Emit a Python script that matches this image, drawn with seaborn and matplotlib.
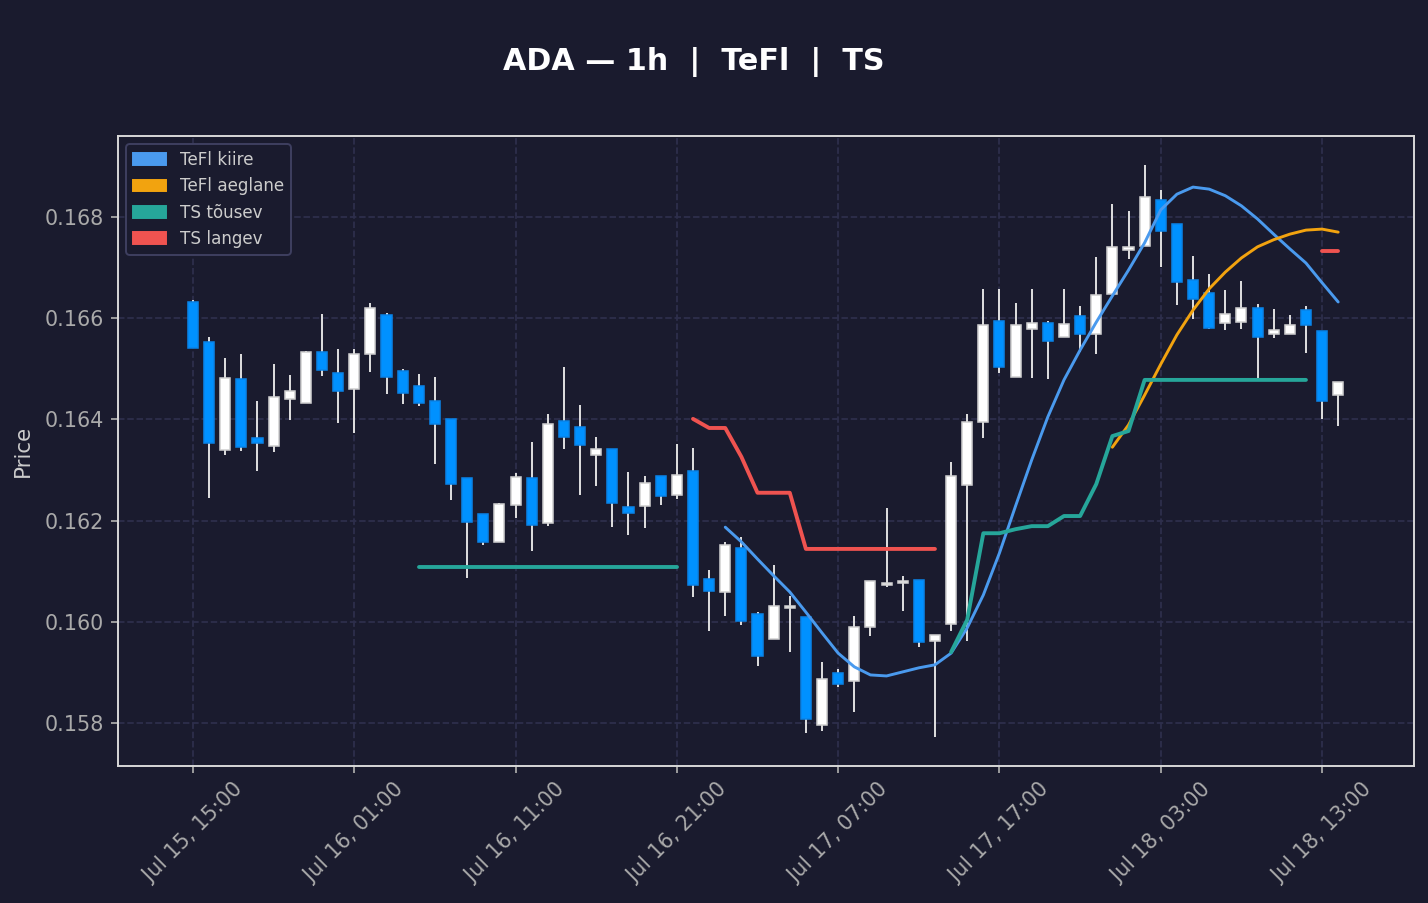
import pandas as pd
import seaborn as sns
import matplotlib.pyplot as plt
import matplotlib.dates as mdates
import matplotlib.patches as mpatches
from matplotlib.ticker import FixedLocator

# Hourly ADA candles, Jul 15 15:00 -> Jul 18 14:00
start = "2024-07-15 15:00"

opens = [0.16632, 0.16553, 0.16340, 0.16480, 0.16363, 0.16347, 0.16440, 0.16432, 0.16533, 0.16492,
         0.16460, 0.16529, 0.16606, 0.16496, 0.16466, 0.16436, 0.16401, 0.16284, 0.16213, 0.16158,
         0.16231, 0.16284, 0.16195, 0.16397, 0.16385, 0.16330, 0.16342, 0.16227, 0.16229, 0.16288,
         0.16251, 0.16298, 0.16085, 0.16059, 0.16146, 0.16015, 0.15966, 0.16027, 0.16009, 0.15796,
         0.15899, 0.15883, 0.15990, 0.16073, 0.16077, 0.16083, 0.15962, 0.15996, 0.16270, 0.16395,
         0.16594, 0.16484, 0.16579, 0.16591, 0.16563, 0.16604, 0.16569, 0.16648, 0.16735, 0.16743,
         0.16834, 0.16786, 0.16675, 0.16650, 0.16591, 0.16593, 0.16620, 0.16569, 0.16569, 0.16616,
         0.16575, 0.16448]

closes = [0.16541, 0.16353, 0.16482, 0.16345, 0.16353, 0.16444, 0.16456, 0.16533, 0.16498, 0.16456,
          0.16529, 0.16620, 0.16484, 0.16452, 0.16432, 0.16391, 0.16272, 0.16197, 0.16158, 0.16233,
          0.16286, 0.16191, 0.16391, 0.16365, 0.16349, 0.16342, 0.16235, 0.16215, 0.16274, 0.16249,
          0.16290, 0.16073, 0.16061, 0.16152, 0.16002, 0.15932, 0.16031, 0.16031, 0.15808, 0.15887,
          0.15877, 0.15990, 0.16081, 0.16077, 0.16081, 0.15960, 0.15974, 0.16288, 0.16395, 0.16587,
          0.16504, 0.16587, 0.16591, 0.16555, 0.16589, 0.16569, 0.16646, 0.16741, 0.16741, 0.16840,
          0.16772, 0.16672, 0.16638, 0.16581, 0.16608, 0.16620, 0.16563, 0.16577, 0.16587, 0.16587,
          0.16436, 0.16474]

highs = [0.16636, 0.16563, 0.16521, 0.16529, 0.16436, 0.16509, 0.16488, 0.16535, 0.16608, 0.16539,
         0.16539, 0.16630, 0.16610, 0.16500, 0.16490, 0.16484, 0.16401, 0.16284, 0.16213, 0.16235,
         0.16294, 0.16355, 0.16411, 0.16504, 0.16428, 0.16365, 0.16342, 0.16296, 0.16288, 0.16288,
         0.16351, 0.16343, 0.16102, 0.16158, 0.16168, 0.16019, 0.16112, 0.16051, 0.16009, 0.15921,
         0.15907, 0.16011, 0.16081, 0.16225, 0.16091, 0.16083, 0.15974, 0.16316, 0.16411, 0.16658,
         0.16658, 0.16630, 0.16658, 0.16594, 0.16658, 0.16624, 0.16721, 0.16826, 0.16812, 0.16903,
         0.16853, 0.16786, 0.16723, 0.16687, 0.16656, 0.16674, 0.16628, 0.16618, 0.16606, 0.16624,
         0.16575, 0.16474]

lows = [0.16541, 0.16245, 0.16330, 0.16338, 0.16298, 0.16336, 0.16399, 0.16432, 0.16486, 0.16393,
        0.16373, 0.16494, 0.16450, 0.16430, 0.16426, 0.16312, 0.16241, 0.16087, 0.16152, 0.16158,
        0.16205, 0.16140, 0.16189, 0.16342, 0.16251, 0.16268, 0.16187, 0.16172, 0.16185, 0.16231,
        0.16243, 0.16049, 0.15982, 0.16011, 0.15994, 0.15913, 0.15966, 0.15940, 0.15780, 0.15784,
        0.15871, 0.15822, 0.15972, 0.16069, 0.16021, 0.15950, 0.15772, 0.15982, 0.15962, 0.16363,
        0.16492, 0.16484, 0.16482, 0.16480, 0.16563, 0.16533, 0.16529, 0.16648, 0.16717, 0.16743,
        0.16701, 0.16626, 0.16598, 0.16579, 0.16577, 0.16579, 0.16480, 0.16561, 0.16569, 0.16531,
        0.16401, 0.16387]

# Indicator values (None = no value for that hour)
tefl_fast = [None] * 33 + [
    0.16187, 0.16158, 0.16124, 0.16091, 0.16059, 0.16019, 0.15978, 0.15938, 0.15911, 0.15895,
    0.15893, 0.15901, 0.15909, 0.15915, 0.15938, 0.15988, 0.16053, 0.16136, 0.16229, 0.16320,
    0.16405, 0.16478, 0.16537, 0.16592, 0.16644, 0.16695, 0.16749, 0.16814, 0.16845, 0.16859,
    0.16855, 0.16842, 0.16822, 0.16796, 0.16766, 0.16737, 0.16709, 0.16670, 0.16632]

tefl_slow = [None] * 57 + [
    0.16345, 0.16389, 0.16448, 0.16509, 0.16567, 0.16616, 0.16658, 0.16691, 0.16719, 0.16741,
    0.16755, 0.16766, 0.16774, 0.16776, 0.16770]

ts_up = ([None] * 14 + [0.16108] * 17 + [None] * 16 +
         [0.15940, 0.16004, 0.16175, 0.16175, 0.16183, 0.16189, 0.16189, 0.16209, 0.16209, 0.16272,
          0.16367, 0.16377] + [0.16478] * 11 + [None] * 2)

ts_down = ([None] * 31 + [0.16401, 0.16383, 0.16383, 0.16326, 0.16255, 0.16255, 0.16255] +
           [0.16144] * 9 + [None] * 23 + [0.16733] * 2)

times = pd.date_range(start, periods=len(opens), freq="h")
df = pd.DataFrame({"time": times, "open": opens, "high": highs, "low": lows, "close": closes})
df["up"] = df["close"] >= df["open"]

bg = "#1a1b2e"
sns.set_theme(style="dark", rc={"axes.facecolor": bg, "figure.facecolor": bg})
plt.rcParams["font.family"] = ["DejaVu Sans"]

fig = plt.figure(figsize=(10.2, 6.45), dpi=140)
ax = fig.add_axes([0.0826, 0.1517, 0.9076, 0.6977])
ax.set_facecolor(bg)

# Wicks then bodies
ax.vlines(df["time"], df["low"], df["high"], color="#e0e0e0", linewidth=1.0, zorder=2)
body_bottom = df[["open", "close"]].min(axis=1)
body_height = (df["close"] - df["open"]).abs()
colors = ["#ffffff" if u else "#0091ff" for u in df["up"]]
edges = ["#d0d0d0" if u else "#0a84e8" for u in df["up"]]
ax.bar(df["time"], body_height, bottom=body_bottom, width=0.026,
       color=colors, edgecolor=edges, linewidth=0.8, zorder=3)

# Indicator lines, split into runs where values exist
lines = [
    ("TeFl kiire", tefl_fast, "#4a9aee", 1.5),
    ("TeFl aeglane", tefl_slow, "#f2a30f", 1.5),
    ("TS tõusev", ts_up, "#26a69a", 2.0),
    ("TS langev", ts_down, "#ef5350", 2.0),
]
handles = []
for name, vals, col, lw in lines:
    d = pd.DataFrame({"time": times, "val": pd.array(vals, dtype="float")})
    d["seg"] = d["val"].isna().cumsum()
    d = d.dropna()
    sns.lineplot(data=d, x="time", y="val", units="seg", estimator=None,
                 color=col, linewidth=lw, ax=ax, legend=False, zorder=4)
    handles.append(mpatches.Patch(color=col, label=name))

ax.set_xlim(times[0] - pd.Timedelta(hours=4.65), times[-1] + pd.Timedelta(hours=4.7))
ax.set_ylim(0.15715, 0.16960)

tick_times = pd.date_range(start, periods=8, freq="10h")
ax.xaxis.set_major_locator(FixedLocator(mdates.date2num(tick_times)))
ax.xaxis.set_major_formatter(mdates.DateFormatter("%b %d, %H:%M"))
ax.set_yticks([0.158, 0.160, 0.162, 0.164, 0.166, 0.168])
ax.set_yticklabels(["0.158", "0.160", "0.162", "0.164", "0.166", "0.168"])
plt.setp(ax.get_xticklabels(), rotation=45, ha="center")

ax.grid(True, color="#2e2f4c", linestyle="--", linewidth=0.9)
ax.tick_params(axis="both", colors="#aaaaaa", labelsize=10.7, length=3.5, width=0.9,
               bottom=True, left=True)
for s in ax.spines.values():
    s.set_color("#d8d8d8")
    s.set_linewidth(1.0)
    s.set_visible(True)

ax.set_xlabel("")
ax.set_ylabel("Price", color="#cccccc", fontsize=11, labelpad=6)

leg = ax.legend(handles=handles, loc="upper left", fontsize=8.6, frameon=True,
                facecolor=bg, edgecolor="#3e3f60", framealpha=1.0)
for t in leg.get_texts():
    t.set_color("#cccccc")

fig.text(0.486, 0.931, "ADA — 1h  |  TeFl  |  TS", ha="center", va="center",
         color="white", fontsize=15.5, fontweight="bold")

fig.savefig("out.png", dpi=140, facecolor=bg)
